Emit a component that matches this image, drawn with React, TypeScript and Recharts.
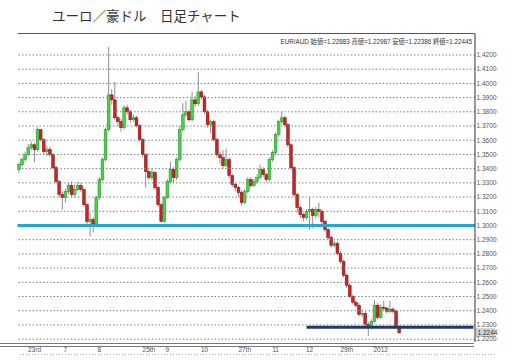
import React from 'react';
import { ComposedChart, Bar, XAxis, YAxis, ReferenceLine } from 'recharts';

const firstOpen = 1.3393;
const closes = [
  1.3428, 1.3463, 1.3498, 1.3547, 1.3568, 1.3533, 1.3674, 1.3604, 1.3519, 1.3533,
  1.3498, 1.3407, 1.3309, 1.3218, 1.3196, 1.3239, 1.3281, 1.3218, 1.3253, 1.3281,
  1.3253, 1.3147, 1.3028, 1.3042, 1.3007, 1.3196, 1.3323, 1.3463, 1.3674, 1.3919,
  1.3884, 1.3758, 1.3730, 1.3688, 1.3828, 1.3800, 1.3744, 1.3758, 1.3702, 1.3604,
  1.3498, 1.3379, 1.3337, 1.3372, 1.3267, 1.3147, 1.3028, 1.3196, 1.3309, 1.3393,
  1.3337, 1.3463, 1.3674, 1.3779, 1.3800, 1.3744, 1.3884, 1.3856, 1.3940, 1.3905,
  1.3800, 1.3709, 1.3730, 1.3604, 1.3498, 1.3477, 1.3421, 1.3463, 1.3351, 1.3288,
  1.3267, 1.3232, 1.3161, 1.3239, 1.3323, 1.3281, 1.3309, 1.3337, 1.3393, 1.3358,
  1.3323, 1.3463, 1.3512, 1.3639, 1.3730, 1.3758, 1.3709, 1.3568, 1.3407, 1.3218,
  1.3126, 1.3077, 1.3056, 1.3098, 1.3112, 1.3070, 1.3112, 1.3098, 1.3028, 1.2972,
  1.2916, 1.2860, 1.2874, 1.2804, 1.2747, 1.2649, 1.2579, 1.2502, 1.2460, 1.2439,
  1.2375, 1.2382, 1.2305, 1.2284, 1.2326, 1.2439, 1.2354, 1.2425, 1.2418, 1.2396,
  1.2411, 1.2396, 1.22883, 1.22445,
];
const highs = [
  1.3445, 1.3480, 1.3520, 1.3575, 1.3590, 1.3580, 1.3690, 1.3680, 1.3615, 1.3560,
  1.3555, 1.3510, 1.3420, 1.3320, 1.3240, 1.3260, 1.3300, 1.3310, 1.3290, 1.3305,
  1.3300, 1.3265, 1.3160, 1.3090, 1.3060, 1.3210, 1.3340, 1.3480, 1.3690, 1.4256,
  1.3960, 1.4010, 1.3775, 1.3750, 1.3845, 1.3850, 1.3815, 1.3780, 1.3770, 1.3715,
  1.3615, 1.3510, 1.3395, 1.3400, 1.3385, 1.3280, 1.3160, 1.3210, 1.3325, 1.3450,
  1.3410, 1.3480, 1.3700, 1.3860, 1.3880, 1.3815, 1.3940, 1.3910, 1.4080, 1.3955,
  1.3920, 1.3815, 1.3745, 1.3745, 1.3620, 1.3520, 1.3530, 1.3540, 1.3480, 1.3365,
  1.3300, 1.3280, 1.3250, 1.3255, 1.3340, 1.3340, 1.3330, 1.3360, 1.3430, 1.3410,
  1.3370, 1.3480, 1.3530, 1.3655, 1.3745, 1.3800, 1.3770, 1.3720, 1.3580, 1.3420,
  1.3230, 1.3140, 1.3090, 1.3115, 1.3200, 1.3125, 1.3130, 1.3160, 1.3115, 1.3040,
  1.2985, 1.2930, 1.2890, 1.2890, 1.2820, 1.2760, 1.2665, 1.2595, 1.2515, 1.2475,
  1.2455, 1.2400, 1.2395, 1.2320, 1.2340, 1.2475, 1.2455, 1.2445, 1.2470, 1.2430,
  1.2470, 1.2425, 1.2410, 1.22987,
];
const lows = [
  1.3370, 1.3415, 1.3450, 1.3485, 1.3530, 1.3445, 1.3520, 1.3590, 1.3500, 1.3490,
  1.3480, 1.3395, 1.3290, 1.3200, 1.3110, 1.3160, 1.3220, 1.3200, 1.3205, 1.3240,
  1.3235, 1.3130, 1.3010, 1.2920, 1.2950, 1.2990, 1.3180, 1.3310, 1.3450, 1.3660,
  1.3850, 1.3740, 1.3700, 1.3660, 1.3675, 1.3780, 1.3725, 1.3730, 1.3690, 1.3590,
  1.3480, 1.3267, 1.3320, 1.3320, 1.3250, 1.3130, 1.3020, 1.3020, 1.3185, 1.3295,
  1.3300, 1.3320, 1.3450, 1.3660, 1.3760, 1.3730, 1.3730, 1.3830, 1.3840, 1.3885,
  1.3785, 1.3690, 1.3650, 1.3590, 1.3480, 1.3430, 1.3400, 1.3410, 1.3335, 1.3270,
  1.3240, 1.3200, 1.3140, 1.3150, 1.3225, 1.3265, 1.3270, 1.3295, 1.3325, 1.3340,
  1.3305, 1.3310, 1.3450, 1.3500, 1.3625, 1.3715, 1.3690, 1.3550, 1.3390, 1.3200,
  1.3090, 1.3050, 1.3030, 1.3040, 1.2970, 1.2980, 1.3050, 1.3060, 1.3010, 1.2955,
  1.2900, 1.2845, 1.2845, 1.2790, 1.2730, 1.2635, 1.2560, 1.2485, 1.2445, 1.2420,
  1.2360, 1.2355, 1.2290, 1.2222, 1.2270, 1.2315, 1.2340, 1.2340, 1.2400, 1.2380,
  1.2385, 1.2380, 1.2275, 1.22386,
];

const totalSlots = 148;
const xTickIndex = [5, 15, 26, 42, 48, 60, 73, 83, 94, 106, 117];
const xTickLabels = ['23rd', '7', '8', '25th', '9', '10', '27th', '11', '12', '29th', '2012'];
const yTicks = [1.22, 1.23, 1.24, 1.25, 1.26, 1.27, 1.28, 1.29, 1.3, 1.31, 1.32, 1.33, 1.34, 1.35, 1.36, 1.37, 1.38, 1.39, 1.4, 1.41, 1.42];
const supportLevel = 1.3;
const lowLevel = 1.2284;
const lowLevelStart = 93;
const title = 'ユーロ／豪ドル　日足チャート';
const info = 'EUR/AUD 始値=1.22883 高値=1.22987 安値=1.22386 終値=1.22445';

const data = Array.from({ length: totalSlots }, (_, i) => {
  if (i < closes.length) {
    const o = i === 0 ? firstOpen : closes[i - 1];
    return { i, o, h: highs[i], l: lows[i], c: closes[i], range: [lows[i], highs[i]] };
  }
  return { i };
});
const lastClose = closes[closes.length - 1];
const lastCloseText = (Math.floor(lastClose * 10000) / 10000).toFixed(4);

const Candle = (props: any) => {
  const { x, y, width, height, payload } = props;
  if (!payload || payload.o == null || !isFinite(y) || !isFinite(height)) return null;
  const { o, h, l, c } = payload;
  const span = h - l;
  const py = (v: number) => y + ((h - v) / span) * height;
  const cx = x + width / 2;
  const up = c >= o;
  const top = py(Math.max(o, c));
  const bot = py(Math.min(o, c));
  return (
    <g>
      <line x1={cx} x2={cx} y1={y} y2={y + height} stroke="#909090" strokeWidth={1} />
      <rect
        x={cx - 1.4}
        y={top}
        width={2.8}
        height={Math.max(bot - top, 0.8)}
        fill={up ? '#44d444' : '#cc2222'}
        stroke={up ? '#2a8a2a' : '#7a1010'}
        strokeWidth={0.5}
      />
    </g>
  );
};

const XTick = (props: any) => {
  const { x, payload } = props;
  const k = xTickIndex.indexOf(payload.value);
  if (k < 0) return null;
  return (
    <text x={x} y={351.5} textAnchor="middle" fontSize={6.5} fill="#555" fontFamily="Liberation Sans, Arial, sans-serif">
      {xTickLabels[k]}
    </text>
  );
};

const YTick = (props: any) => {
  const { y, payload } = props;
  return (
    <g>
      <text x={476.5} y={y + 2.3} textAnchor="start" fontSize={6.5} fill="#555" fontFamily="Liberation Sans, Arial, sans-serif">
        {Number(payload.value).toFixed(4)}
      </text>
      <line x1={497} x2={497} y1={y - 1.5} y2={y + 1.5} stroke="#aaa" strokeWidth={0.6} />
    </g>
  );
};

const PriceLabel = (props: any) => {
  const vb = props.viewBox || {};
  const bx = vb.x + vb.width + 1;
  const by = vb.y;
  return (
    <g>
      <rect x={bx} y={by - 4} width={19} height={8} fill="#d4d4d4" stroke="#aaa" strokeWidth={0.5} />
      <text x={bx + 1.5} y={by + 2.3} fontSize={6.5} fill="#333" fontFamily="Liberation Sans, Arial, sans-serif">
        {lastCloseText}
      </text>
    </g>
  );
};

export default function App() {
  return (
    <div style={{ position: 'absolute', left: 0, top: 0, width: 511, height: 363, background: '#fff' }}>
      <ComposedChart
        width={511}
        height={363}
        data={data}
        margin={{ top: 33.5, right: 0, bottom: 0, left: 17.5 }}
        barCategoryGap={0}
      >
        <XAxis
          dataKey="i"
          type="category"
          ticks={xTickIndex}
          interval={0}
          height={21}
          axisLine={false}
          tickLine={false}
          tick={<XTick />}
        />
        <YAxis
          orientation="right"
          domain={[1.218, 1.4351]}
          allowDataOverflow
          ticks={yTicks}
          interval={0}
          width={36}
          axisLine={{ stroke: '#333', strokeWidth: 1 }}
          tickLine={false}
          tick={<YTick />}
        />
        {yTicks.map((t) => (
          <ReferenceLine key={t} y={t} stroke="#808080" strokeWidth={1} strokeDasharray="1.5 2" />
        ))}
        <ReferenceLine y={supportLevel} stroke="#22a8d2" strokeWidth={3} />
        <ReferenceLine
          segment={[{ x: lowLevelStart, y: lowLevel }, { x: totalSlots - 1, y: lowLevel }]}
          stroke="#1f3a68"
          strokeWidth={3}
        />
        <Bar dataKey="range" shape={<Candle />} isAnimationActive={false} />
        <ReferenceLine y={lastClose} stroke="none" label={<PriceLabel />} />
      </ComposedChart>
      <svg width={511} height={363} style={{ position: 'absolute', left: 0, top: 0, pointerEvents: 'none' }}>
        <text x={52} y={20.5} fontSize={13.5} fill="#333" fontFamily="Noto Sans CJK JP, sans-serif">
          {title}
        </text>
        <line x1={17.5} x2={475} y1={33.5} y2={33.5} stroke="#555" strokeWidth={1} />
        <text x={472} y={43.5} textAnchor="end" fontSize={6.3} fill="#333" fontFamily="Liberation Sans, Noto Sans CJK JP, sans-serif">
          {info}
        </text>
        <line x1={0} x2={474} y1={343.5} y2={343.5} stroke="#777" strokeWidth={1} />
        <line x1={0} x2={474} y1={346.5} y2={346.5} stroke="#777" strokeWidth={1} />
        <line x1={20} x2={497} y1={354.5} y2={354.5} stroke="#aaa" strokeWidth={1} strokeDasharray="1 2" />
      </svg>
    </div>
  );
}
